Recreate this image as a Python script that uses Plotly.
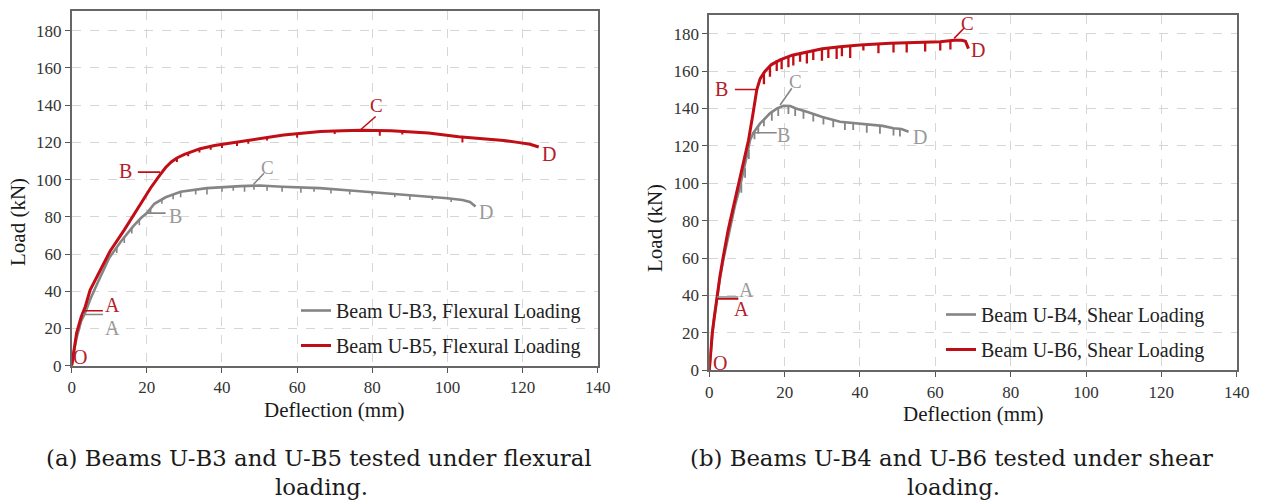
import plotly.graph_objects as go

# ---------------- data ----------------
# (a) flexural loading
ub3_x = [0, 0.5, 1.3, 2.5, 3.5, 5, 7, 10, 13, 16.4, 18.5, 20, 22, 25, 29, 36, 45, 50, 56, 66, 75, 85, 92, 100, 104, 106, 107.5]
ub3_y = [0, 7, 15, 24, 28, 36, 45, 58, 66.5, 75, 79.5, 82, 87, 90.5, 93.5, 95.4, 96.5, 96.8, 96.2, 95.4, 94, 92.5, 91.2, 90, 89, 88, 85.5]
ub3_dip_x = [12, 14, 16, 18, 21, 24, 27, 29, 33, 36, 40, 43, 46, 48.5, 52, 56, 61, 64.5, 69, 74, 80, 86, 90, 96, 101]
ub3_dip_top = [63.5, 69, 74, 78.5, 84.5, 89.5, 92, 93.5, 94.7, 95.4, 96, 96.3, 96.5, 96.8, 96.7, 96.2, 95.8, 95.5, 95, 94.2, 93.3, 92.4, 91.6, 90.6, 89.8]
ub3_dip_bot = [60.5, 66, 71, 75.5, 81.5, 87, 89.5, 90.5, 92, 92, 93.5, 94, 93.5, 94.5, 94, 93.5, 93, 93.5, 92.5, 92, 91.5, 90.5, 89, 89, 88]

ub5_x = [0, 0.5, 1.3, 2.5, 3.6, 4.9, 7, 10.2, 14, 17, 19.1, 21, 23.5, 25, 26.5, 28, 30, 32, 34.2, 38, 43, 50, 56.4, 62, 66.2, 72, 77, 85, 95, 103, 110, 115, 118.7, 122, 124.3]
ub5_y = [0, 8, 17.6, 26, 31.7, 40.7, 49, 61.5, 73, 82.5, 89, 95.5, 102.5, 106.5, 109.5, 111.6, 113.6, 115.2, 116.6, 118.3, 119.8, 122, 124, 125, 125.8, 126.3, 126.5, 126.3, 125, 123, 122, 121, 120, 119, 117.5]
ub5_dip_x = [28, 31, 34, 37, 40, 44, 47, 52, 60, 70, 82, 88, 104]
ub5_dip_top = [111.6, 114.4, 116.5, 118, 118.9, 120.2, 121, 122.8, 124.8, 126, 126.4, 126.2, 122.9]
ub5_dip_bot = [109.5, 112.5, 114.5, 116, 117, 118, 119.2, 121, 122.5, 124.5, 123.5, 124.2, 120]

# (b) shear loading
ub4_x = [0, 0.3, 0.8, 1.3, 2, 2.8, 3.7, 5, 6.8, 8, 9, 10, 10.8, 11.7, 13.5, 16.1, 18, 19.7, 21.5, 23, 25.9, 30, 34.7, 39, 43.6, 46, 48.9, 51, 52.9]
ub4_y = [0, 10, 20, 28, 39, 49, 59, 72, 88, 97, 105.3, 115, 123, 127, 132, 137.4, 140, 141.5, 141.3, 140, 138.3, 135.5, 132.9, 132, 131.2, 130.7, 129.4, 129, 127.6]
ub4_dip_x = [8.5, 9.5, 10.5, 12, 13, 14.5, 16.6, 18.3, 21, 22.8, 25, 27.6, 30.3, 32.9, 36, 38.2, 41.8, 45.3, 48.9, 50.6]
ub4_dip_top = [100, 108, 118, 128, 131, 134.5, 137.8, 140.3, 141.3, 140.3, 138.8, 137, 135.5, 134, 132.6, 132.2, 131.5, 130.8, 129.4, 129.1]
ub4_dip_bot = [95, 103, 113, 123.5, 126.5, 130.5, 133.5, 136, 137, 136, 134.5, 133, 131.5, 130, 128.5, 128.5, 127, 126.5, 125.5, 125]

ub6_x = [0, 0.3, 0.8, 1.3, 2, 2.8, 3.7, 5, 6.8, 8.5, 10.4, 11.5, 12.6, 13.5, 14.8, 16.5, 18.8, 22, 25.9, 30, 34.7, 40, 48, 55, 61.3, 65, 67, 68, 68.8]
ub6_y = [0, 10, 20, 28, 39.4, 50, 60.7, 75, 91, 107, 123, 136, 150, 156, 160, 163.5, 166, 168.5, 170.4, 172, 173, 174, 174.9, 175.5, 175.7, 176.5, 176.5, 176, 172]
ub6_dip_x = [14.5, 16.1, 17.9, 19.2, 21, 22.3, 24.1, 25.9, 27.6, 29.9, 31.6, 33.8, 35.2, 37.4, 40.9, 44.9, 48.9, 52.4, 57.3, 61.3, 64]
ub6_dip_top = [159.5, 163, 165.8, 166.8, 168, 169, 169.8, 170.4, 171.2, 172, 172.4, 172.8, 173.1, 173.4, 174, 174.6, 174.9, 175.2, 175.6, 175.7, 176.2]
ub6_dip_bot = [153, 157, 160, 161, 162, 163, 165, 164, 166, 165.5, 167, 166.5, 168, 167, 171, 169.6, 170, 170, 170.5, 171, 171.5]

x_ticks = [0, 20, 40, 60, 80, 100, 120, 140]
y_ticks = [0, 20, 40, 60, 80, 100, 120, 140, 160, 180]

# ---------------- style ----------------
RED = "#c00d16"
GRAY = "#858585"
RED_TXT = "#b3202b"
GRAY_TXT = "#9a9a9a"
SERIF = "Liberation Serif, Times New Roman, serif"
CAP_FONT = "DejaVu Serif, serif"


def dip_segments(xs, tops, bots):
    sx, sy = [], []
    for x, t, b in zip(xs, tops, bots):
        sx += [x, x, None]
        sy += [t, b, None]
    return sx, sy


fig = go.Figure()


def add_series(x, y, dx, dt, db, color, width, dip_width, name, xa, ya, legend, group):
    fig.add_trace(go.Scatter(x=x, y=y, mode="lines", name=name,
                             line=dict(color=color, width=width),
                             xaxis=xa, yaxis=ya, legend=legend, legendgroup=group))
    sx, sy = dip_segments(dx, dt, db)
    fig.add_trace(go.Scatter(x=sx, y=sy, mode="lines", showlegend=False,
                             line=dict(color=color, width=dip_width),
                             xaxis=xa, yaxis=ya, legendgroup=group, hoverinfo="skip"))


add_series(ub3_x, ub3_y, ub3_dip_x, ub3_dip_top, ub3_dip_bot, GRAY, 2.6, 1.6,
           "Beam U-B3, Flexural Loading", "x", "y", "legend", "g1")
add_series(ub5_x, ub5_y, ub5_dip_x, ub5_dip_top, ub5_dip_bot, RED, 3, 2,
           "Beam U-B5, Flexural Loading", "x", "y", "legend", "g2")
add_series(ub4_x, ub4_y, ub4_dip_x, ub4_dip_top, ub4_dip_bot, GRAY, 2.6, 1.8,
           "Beam U-B4, Shear Loading", "x2", "y2", "legend2", "g3")
add_series(ub6_x, ub6_y, ub6_dip_x, ub6_dip_top, ub6_dip_bot, RED, 3, 2.3,
           "Beam U-B6, Shear Loading", "x2", "y2", "legend2", "g4")

axis_common = dict(
    showline=True, mirror=True, linecolor="#666666", linewidth=1.8,
    showgrid=True, gridcolor="#d6d6d6", griddash="dash", gridwidth=1,
    zeroline=False, ticks="outside", ticklen=5, tickwidth=1.4, tickcolor="#555555",
    tickfont=dict(family=SERIF, size=17, color="#333333"), automargin=False,
)

W, H = 1264, 500


def px_x(p):
    return p / W


def px_y(p):
    return 1 - p / H


fig.update_layout(
    width=W, height=H, margin=dict(l=0, r=0, t=0, b=0),
    paper_bgcolor="white", plot_bgcolor="white", showlegend=True,
    xaxis=dict(domain=[px_x(71.7), px_x(597.7)], range=[0, 140], tickvals=x_ticks, anchor="y", **axis_common),
    yaxis=dict(domain=[px_y(365.7), px_y(11)], range=[0, 190.6], tickvals=y_ticks, anchor="x", **axis_common),
    xaxis2=dict(domain=[px_x(709.3), px_x(1236.7)], range=[0, 140], tickvals=x_ticks, anchor="y2", **axis_common),
    yaxis2=dict(domain=[px_y(370.3), px_y(15)], range=[0, 190], tickvals=y_ticks, anchor="x2", **axis_common),
    legend=dict(x=px_x(296), y=px_y(291), xanchor="left", yanchor="top", bgcolor="rgba(0,0,0,0)",
                font=dict(family=SERIF, size=20, color="#222222"), tracegroupgap=6, itemwidth=30),
    legend2=dict(x=px_x(941), y=px_y(295), xanchor="left", yanchor="top", bgcolor="rgba(0,0,0,0)",
                 font=dict(family=SERIF, size=20, color="#222222"), tracegroupgap=6, itemwidth=30),
)

shapes = []
annotations = []


def leader(xa, ya, x0, y0, x1, y1, color):
    shapes.append(dict(type="line", xref=xa, yref=ya, x0=x0, y0=y0, x1=x1, y1=y1,
                       line=dict(color=color, width=1.6)))


def label(xa, ya, x, y, text, color, size=20):
    annotations.append(dict(xref=xa, yref=ya, x=x, y=y, text=text, showarrow=False,
                            xanchor="center", yanchor="middle",
                            font=dict(family=SERIF, size=size, color=color)))


def paper_text(cx, cy, text, family, size, angle=0):
    annotations.append(dict(xref="paper", yref="paper", x=px_x(cx), y=px_y(cy), text=text,
                            showarrow=False, xanchor="center", yanchor="middle", textangle=angle,
                            font=dict(family=family, size=size, color="#1a1a1a")))


# point labels, flexural panel
label("x", "y", 2.3, 4.5, "O", RED_TXT)
leader("x", "y", 3.5, 29.5, 8.3, 29.5, RED)
label("x", "y", 10.8, 32.5, "A", RED_TXT)
leader("x", "y", 3, 27.5, 8.3, 27.5, GRAY)
label("x", "y", 10.8, 20.5, "A", GRAY_TXT)
leader("x", "y", 20, 82, 25, 82, GRAY)
label("x", "y", 27.7, 80.5, "B", GRAY_TXT)
leader("x", "y", 17.6, 104, 23.5, 104, RED)
label("x", "y", 14.2, 104.8, "B", RED_TXT)
leader("x", "y", 48.4, 97.5, 51.2, 103.4, GRAY)
label("x", "y", 52.2, 106.5, "C", GRAY_TXT, 19)
leader("x", "y", 76.9, 126.8, 80.9, 133.9, RED)
label("x", "y", 81.2, 139.6, "C", RED_TXT, 19)
label("x", "y", 127, 113.5, "D", RED_TXT)
label("x", "y", 110.3, 82.6, "D", GRAY_TXT)

# point labels, shear panel
label("x2", "y2", 2.8, 3.8, "O", RED_TXT)
leader("x2", "y2", 2.0, 39.2, 7.7, 39.2, GRAY)
leader("x2", "y2", 2.0, 38.2, 7.7, 38.2, RED)
label("x2", "y2", 9.9, 43.2, "A", GRAY_TXT)
label("x2", "y2", 8.6, 32.6, "A", RED_TXT)
leader("x2", "y2", 6.8, 150.2, 12.4, 150.2, RED)
label("x2", "y2", 3.3, 150.4, "B", RED_TXT)
leader("x2", "y2", 11.3, 127, 17.9, 127, GRAY)
label("x2", "y2", 19.8, 126, "B", GRAY_TXT)
leader("x2", "y2", 18.8, 141.9, 21.9, 150.8, GRAY)
label("x2", "y2", 22.9, 154.3, "C", GRAY_TXT, 19)
label("x2", "y2", 56, 125, "D", GRAY_TXT)
leader("x2", "y2", 65, 177.5, 67.6, 182.9, RED)
label("x2", "y2", 68.6, 185.6, "C", RED_TXT, 19)
label("x2", "y2", 71.3, 171.3, "D", RED_TXT)

# axis titles
paper_text(334.7, 410, "Deflection (mm)", SERIF, 21)
paper_text(973, 414, "Deflection (mm)", SERIF, 21)
paper_text(18, 222, "Load (kN)", SERIF, 21, -90)
paper_text(655, 228, "Load (kN)", SERIF, 21, -90)

# sub-figure captions
captions = [
    (319, "(a) Beams U-B3 and U-B5 tested under flexural", "loading."),
    (951, "(b) Beams U-B4 and U-B6 tested under shear", "loading."),
]
for cx, l1, l2 in captions:
    paper_text(cx, 458, l1, CAP_FONT, 22.8)
    paper_text(cx + 2, 487, l2, CAP_FONT, 22.8)

fig.update_layout(shapes=shapes, annotations=annotations)

fig.write_html("out.html")
